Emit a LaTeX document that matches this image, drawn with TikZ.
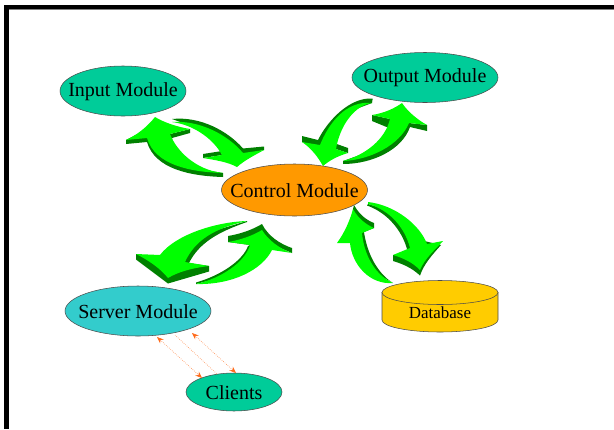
\documentclass[tikz,border=0pt]{standalone}
\usepackage{fontspec}
\setmainfont{Liberation Serif}
\usetikzlibrary{shapes.geometric,arrows.meta}
\definecolor{moduleteal}{HTML}{00CC99}
\definecolor{moduleorange}{HTML}{FF9900}
\definecolor{modulecyan}{HTML}{33CCCC}
\definecolor{moduleyellow}{HTML}{FFCC00}
\definecolor{arrowbright}{HTML}{00FF00}
\definecolor{arrowdark}{HTML}{008000}
\definecolor{linkorange}{HTML}{FF6A1A}
\tikzset{
	module/.style={ellipse,draw=black!70,line width=0.4pt,inner sep=0pt},
	modtext/.style={font=\fontsize{15}{18}\selectfont,inner sep=0pt,yshift=-0.4pt},
	storeside/.style={draw=black!70,line width=0.4pt,fill=moduleyellow},
	link/.style={linkorange!70,densely dotted,line width=0.5pt,{Stealth[length=5pt,width=4pt,linkorange]}-{Stealth[length=5pt,width=4pt,linkorange]}},
	plainlink/.style={linkorange!70,densely dotted,line width=0.5pt}
}
\newcommand{\BlockArrow}[2]{
	\fill[arrowdark] #1;
	\fill[arrowbright] #2;
}
\begin{document}
\begin{tikzpicture}[x=0.75pt,y=-0.75pt]
	\useasboundingbox (0,0) rectangle (614,429);
	\fill[black] (4,5) rectangle (614,9);
	\fill[black] (4,5) rectangle (9,429);
	\fill[black!50] (9,9) rectangle (614,10);

	\BlockArrow{(126,140) -- (126,144) -- (147,142) .. controls (155,169) and (190,176) .. (223,177) -- (223,173) -- (205,170) -- (175,158) -- (172,138) -- (190,133) -- (190,129) -- (170,134) -- (155,125) -- cycle}
		{(155,117) .. controls (165,123) and (178,127) .. (190,129) -- (170,134) .. controls (176,150) and (195,170) .. (223,173) .. controls (190,172) and (155,165) .. (147,138) -- (126,140) .. controls (137,135) and (147,127) .. (155,117) -- cycle}
	\BlockArrow{(172,119) .. controls (200,116) and (228,131) .. (243,148.5) -- (264,146.5) -- (264,150) -- (240,155) -- (222,151) -- (203,154) -- (203,158) -- (222,155) -- (215,138) -- (205,131) -- cycle}
		{(172,122) .. controls (200,120) and (228,135) .. (243,153) -- (264,150) .. controls (255,155) and (245,160) .. (237,167) .. controls (228,162) and (215,160) .. (203,158) -- (222,155) .. controls (214,140) and (195,125) .. (172,122) -- cycle}
	\BlockArrow{(372.7,98.5) .. controls (350,97) and (328,120) .. (318,140) -- (302,136) -- (302,142) -- (325,150) -- (334,143) -- (348,148) -- (348,153) -- (336,149) -- (333,130) -- (348,112) -- (372,103) -- cycle}
		{(372,103) .. controls (355,105) and (340,125) .. (336,149) -- (348,153) .. controls (338,156) and (330,160) .. (323,166) .. controls (318,157) and (311,148) .. (302,142) -- (320,145) .. controls (328,125) and (345,100) .. (372,103) -- cycle}
	\BlockArrow{(343,161) -- (343,164) .. controls (372,164) and (402,150) .. (410,127) -- (427,131) -- (427,125) -- (409,123) -- (390,119) -- (372,115) -- (372,121) -- (389,128) -- (380,145) -- (360,155) -- cycle}
		{(402,103) .. controls (395,108) and (385,113) .. (372,115) -- (390,119) .. controls (385,140) and (365,155) .. (343,161) .. controls (370,160) and (400,145) .. (409,123) -- (427,125) .. controls (418,120) and (408,112) .. (402,103) -- cycle}
	\BlockArrow{(136,254) -- (136,259.5) -- (168,283.5) -- (209,271.5) -- (209,266) -- (189,263) .. controls (199,243) and (218,232) .. (247,222) -- (247,221) -- (200,235) -- (160,258) -- cycle}
		{(247,221) .. controls (215,222) and (175,235) .. (160,255) -- (136,254) .. controls (148,260) and (160,268) .. (168,278) .. controls (178,272) and (192,268) .. (209,266) -- (185,262) .. controls (195,240) and (215,228) .. (247,221) -- cycle}
	\BlockArrow{(196,284) -- (196,282.5) .. controls (222,275) and (243,260) .. (248,246) -- (250,245) -- (228,242) -- (228,236) .. controls (240,234) and (252,230) .. (262,224) .. controls (268,236) and (280,244) .. (292,248) -- (292,253) -- (262,240) -- (240,268) -- (215,279) -- cycle}
		{(196,284) .. controls (222,278) and (245,262) .. (250,245) -- (228,242) .. controls (240,240) and (252,236) .. (262,230) .. controls (268,240) and (280,249) .. (292,253) -- (272,250) .. controls (262,270) and (232,285) .. (196,284) -- cycle}
	\BlockArrow{(368,204) -- (367,205.5) .. controls (388,213) and (402,231) .. (407,249) -- (412,255) -- (393,255) -- (393,261) .. controls (403,264) and (412,268) .. (420,275.5) .. controls (424,264) and (432,255) .. (441,245) -- (420,240) -- (405,222) -- (388,210) -- cycle}
		{(368,202) .. controls (395,205) and (420,225) .. (427,244) -- (443,241) .. controls (435,250) and (425,258) .. (420,270) .. controls (412,262) and (403,258) .. (393,255) -- (410,248) .. controls (405,228) and (390,210) .. (368,204) -- cycle}
	\BlockArrow{(353,209) -- (354,205) .. controls (359,214) and (366,220) .. (374,223) -- (374,228) -- (364,232) .. controls (367,253) and (377,273) .. (393,283) -- (370,270) -- (358,245) -- cycle}
		{(353,209) .. controls (358,218) and (365,224) .. (374,228) -- (362,233) .. controls (364,255) and (375,275) .. (393,283) .. controls (370,285) and (352,265) .. (350,243) -- (337,243) .. controls (345,232) and (350,220) .. (353,209) -- cycle}

	\node[module,fill=moduleteal,minimum width=94.5pt,minimum height=37.5pt,label={[modtext]center:Input Module}] (input) at (123,91) {};
	\node[module,fill=moduleteal,minimum width=109.5pt,minimum height=37.5pt,label={[modtext]center:Output Module}] (output) at (425,77.5) {};
	\node[module,fill=moduleorange,minimum width=109.5pt,minimum height=39pt,label={[modtext]center:Control Module}] (control) at (294.5,190) {};
	\node[module,fill=modulecyan,minimum width=109.5pt,minimum height=37.5pt,label={[modtext]center:Server Module}] (server) at (138,311) {};
	\node[module,fill=moduleteal,minimum width=72pt,minimum height=28.5pt,label={[modtext]center:Clients}] (clients) at (234,392) {};

	\draw[storeside] (382,292.5) -- (382,320) arc[start angle=180,end angle=0,x radius=58,y radius=12] -- (498,292.5) -- cycle;
	\draw[storeside] (440,292.5) ellipse [x radius=58,y radius=12];
	\node[font=\fontsize{12.7}{15}\selectfont] (database) at (440,312.5) {Database};

	\coordinate (s1) at (157,337);
	\coordinate (c1) at (202,378);
	\coordinate (s2) at (175,335);
	\coordinate (c2) at (217,374);
	\coordinate (s3) at (192,333);
	\coordinate (c3) at (236,373);
	\draw[link] (s1) -- (c1);
	\draw[plainlink] (s2) -- (c2);
	\draw[link] (s3) -- (c3);
\end{tikzpicture}
\end{document}
